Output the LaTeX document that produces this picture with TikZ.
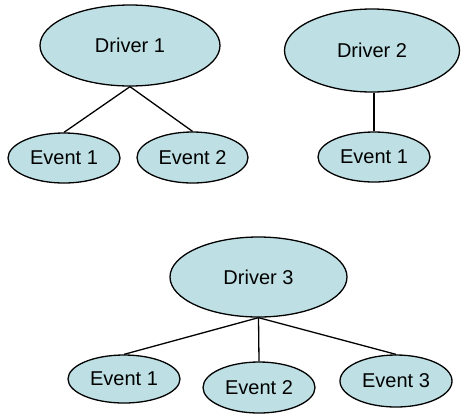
\documentclass[tikz,border=0pt]{standalone}
\usepackage{fontspec}
\setmainfont{Liberation Sans}
\usetikzlibrary{shapes.geometric}
\definecolor{bubble}{RGB}{190,224,228}
\tikzset{
  oval/.style={ellipse, draw=black, line width=1.3bp, fill=bubble, inner sep=0pt,
    font=\fontsize{20bp}{23bp}\selectfont},
  link/.style={line width=1.3bp, draw=black}
}
\begin{document}
\begin{tikzpicture}[x=1bp, y=-1bp]
  \useasboundingbox (0,0) rectangle (461,417);

  % first tree
  \node[oval, minimum width=180bp, minimum height=81bp] (d1) at (130,45.5) {Driver 1};
  \node[oval, minimum width=112bp, minimum height=50bp] (d1e1) at (64,158) {Event 1};
  \node[oval, minimum width=111bp, minimum height=51bp] (d1e2) at (192.5,157.5) {Event 2};

  % second tree
  \node[oval, minimum width=175bp, minimum height=83bp] (d2) at (372,50.5) {Driver 2};
  \node[oval, minimum width=112bp, minimum height=50bp] (d2e1) at (374,157) {Event 1};

  % third tree
  \node[oval, minimum width=177bp, minimum height=80bp] (d3) at (258.5,277) {Driver 3};
  \node[oval, minimum width=112bp, minimum height=48bp] (d3e1) at (124,379) {Event 1};
  \node[oval, minimum width=112bp, minimum height=51bp] (d3e2) at (259,387.5) {Event 2};
  \node[oval, minimum width=112bp, minimum height=52bp] (d3e3) at (396,381) {Event 3};

  % connectors
  \draw[link] (d1.south) -- (d1e1.north);
  \draw[link] (d1.south) -- (d1e2.north);
  \draw[link] (d2e1.north |- d2.south) -- (d2e1.north);
  \draw[link] (d3.south) -- (d3e1.north);
  \draw[link] (d3.south) -- (d3e2.north);
  \draw[link] (d3.south) -- (d3e3.north);
\end{tikzpicture}
\end{document}
